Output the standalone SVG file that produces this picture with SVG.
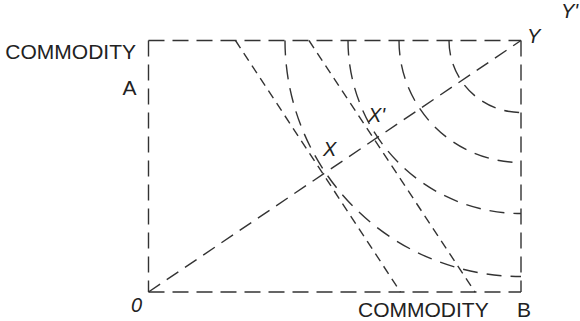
<svg xmlns="http://www.w3.org/2000/svg" width="580" height="321" viewBox="0 0 580 321">
<style>
.l{fill:none;stroke:#333;stroke-width:1.4}
.frame{stroke-dasharray:16 8}
.ray{stroke-dasharray:14 8}
.bud{stroke-dasharray:9 6}
.ic{stroke-dasharray:15 9}
text{font-family:"Liberation Sans",Arial,sans-serif;fill:#222}
.it{font-style:italic;font-size:20px}
.cap{font-size:21px}
</style>
<rect width="580" height="321" fill="#fff"/>
<g id="connectors">
<g id="frame">
<path class="l frame" d="M148.5 40.5 H521"/>
<path class="l frame" d="M521 40.5 V292"/>
<path class="l frame" d="M148.5 292 H521"/>
<path class="l frame" d="M148.5 40.5 V292"/>
</g>
<path id="ray-OY" class="l ray" d="M148.5 292 L521 40.5"/>
<path id="budget-1" class="l bud" d="M235.5 40.5 L400.5 292"/>
<path id="budget-2" class="l bud" d="M309 40.5 L475 292"/>
<path id="ic-1" class="l ic" d="M449 40.5 A72 72 0 0 0 521 112.5"/>
<path id="ic-2" class="l ic" d="M399 40.5 A122 122 0 0 0 521 162.5"/>
<path id="ic-3" class="l ic" d="M348 40.5 A173 173 0 0 0 521 213.5"/>
<path id="ic-4" class="l ic" d="M285 40.5 A236 236 0 0 0 521 276.5"/>
</g>
<g id="label-commodity-a"><text class="cap" x="136" y="59" text-anchor="end">COMMODITY</text><text class="cap" x="136.5" y="94.5" text-anchor="end">A</text></g>
<g id="label-commodity-b"><text class="cap" x="358" y="317">COMMODITY</text><text class="cap" x="517" y="317">B</text></g>
<g id="label-0"><text class="it" x="131" y="312">0</text></g>
<g id="label-Y"><text class="it" x="527" y="43">Y</text></g>
<g id="label-Y2"><text class="it" x="561" y="18">Y'</text></g>
<g id="label-X"><text class="it" x="323" y="156">X</text></g>
<g id="label-X2"><text class="it" x="368" y="122">X'</text></g>
</svg>
